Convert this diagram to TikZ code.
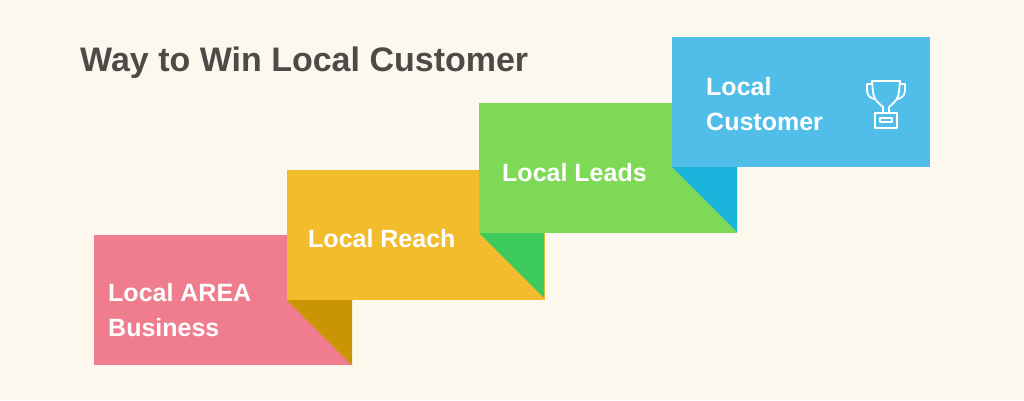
\documentclass[tikz,border=0pt]{standalone}
\usepackage{fontspec}
\setmainfont{Liberation Sans}
\usepackage{xcolor}
\definecolor{bgcream}{HTML}{FDF8EE}
\definecolor{titlegray}{HTML}{4D4A48}
\definecolor{pinkstep}{HTML}{EF7D8E}
\definecolor{yellowstep}{HTML}{F2BC2D}
\definecolor{golddark}{HTML}{C99504}
\definecolor{greenstep}{HTML}{7ED957}
\definecolor{greendark}{HTML}{3CCB5C}
\definecolor{bluestep}{HTML}{50BEE8}
\definecolor{bluedark}{HTML}{1AB3DC}
\tikzstyle{steplabel} = [anchor=north west,inner sep=0pt,text=white,align=left,font=\fontsize{25}{35}\selectfont\bfseries]

\begin{document}
\begin{tikzpicture}[x=1pt,y=-1pt]
                \fill[bgcream] (0,0) rectangle (1024,400);
                \useasboundingbox (0,0) rectangle (1024,400);
                \node[anchor=north west,inner sep=0pt,text=titlegray,font=\fontsize{34}{40}\selectfont\bfseries] (title) at (80,47) {Way to Win Local Customer};
                % stair boxes
                \foreach \x/\y/\c in {94/235/pinkstep,287/170/yellowstep,479/103/greenstep,672/37/bluestep}{
                    \fill[\c] (\x,\y) rectangle ++(258,130);
                }
                % folds under each box
                \foreach \x/\y/\d in {287/170/golddark,479/103/greendark,672/37/bluedark}{
                    \fill[\d] (\x,\y+130) -- ++(65,0) -- ++(0,65) -- cycle;
                }
                \node[steplabel] (area) at (108,283) {Local AREA\\Business};
                \node[steplabel] (reach) at (308,229) {Local Reach};
                \node[steplabel] (leads) at (502,163) {Local Leads};
                \node[steplabel] (customer) at (706,77) {Local\\Customer};
                % trophy
                \begin{scope}[white,line width=1.8pt,line join=round,line cap=round]
                    \draw (872,81) -- (900,81) -- (899,92) .. controls (898,101) and (891,105) .. (889,107) -- (889,113) -- (883,113) -- (883,107) .. controls (881,105) and (874,101) .. (873,92) -- cycle;
                    \draw (872,84) -- (867,84) -- (867,90) .. controls (867,96) and (871,98) .. (874,99);
                    \draw (900,84) -- (905,84) -- (905,90) .. controls (905,96) and (901,98) .. (898,99);
                    \draw (875,113) rectangle (897,128);
                    \draw (880,118) rectangle (892,122);
                \end{scope}
            \end{tikzpicture}
\end{document}
